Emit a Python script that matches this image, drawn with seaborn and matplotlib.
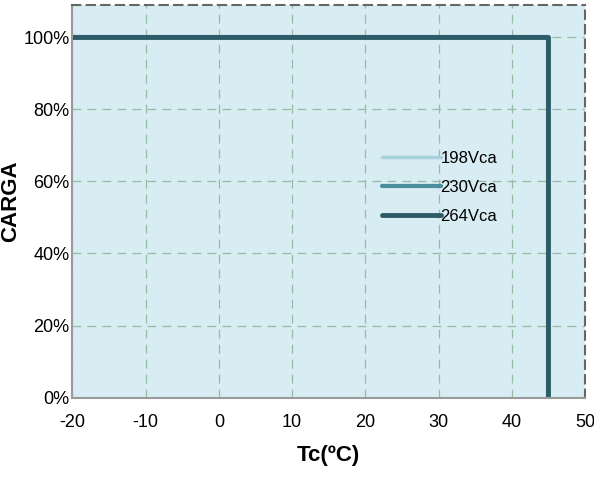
import matplotlib
matplotlib.use("Agg")
import matplotlib.pyplot as plt
import seaborn as sns
import pandas as pd
from matplotlib.ticker import FuncFormatter

# derating curve: full load up to 45 C, then zero
temps = [-20, 45, 45]
load = [1.0, 1.0, 0.0]
series = ["198Vca", "230Vca", "264Vca"]
colors = ["#a9d0dd", "#4b8e9c", "#2d5c68"]
widths = [2.5, 3.0, 3.5]
x_ticks = [-20, -10, 0, 10, 20, 30, 40, 50]
y_ticks = [0, 0.2, 0.4, 0.6, 0.8, 1.0]

rows = []
for s in series:
    for i, (t, l) in enumerate(zip(temps, load)):
        rows.append({"Tc": t, "carga": l, "serie": s, "ord": i})
df = pd.DataFrame(rows)

sns.set_style("white")
plt.rcParams["font.family"] = ["Liberation Sans", "DejaVu Sans"]
plt.rcParams["axes.unicode_minus"] = False
plt.rcParams["text.color"] = "black"
plt.rcParams["axes.labelcolor"] = "black"
plt.rcParams["xtick.color"] = "black"
plt.rcParams["ytick.color"] = "black"

fig, ax = plt.subplots(figsize=(5.94, 4.79), dpi=100)
ax.set_facecolor("#d8ecf3")

for s, c, w in zip(series, colors, widths):
    sub = df[df["serie"] == s]
    sns.lineplot(data=sub, x="Tc", y="carga", sort=False, color=c,
                 linewidth=w, label=s, ax=ax, estimator=None)

ax.set_xlim(-20, 50)
ax.set_ylim(0, 1.09)
ax.set_xticks(x_ticks)
ax.set_yticks(y_ticks)
ax.yaxis.set_major_formatter(FuncFormatter(lambda v, p: f"{v * 100:.0f}%"))
ax.tick_params(labelsize=13, length=0)
ax.tick_params(axis="x", pad=12)
ax.tick_params(axis="y", pad=2)
ax.grid(True, linestyle=(0, (7, 5)), color="#93bca2", linewidth=0.9)

for side in ["left", "bottom"]:
    ax.spines[side].set_color("#9a9a9a")
    ax.spines[side].set_linewidth(1.5)
for side in ["top", "right"]:
    ax.spines[side].set_color("#666666")
    ax.spines[side].set_linestyle((0, (4, 3)))
    ax.spines[side].set_linewidth(1.5)

ax.set_xlabel("Tc(ºC)", fontsize=16, fontweight="bold", labelpad=10)
ax.set_ylabel("CARGA", fontsize=16, fontweight="bold", labelpad=2)

leg = ax.legend(loc="center left", bbox_to_anchor=(0.575, 0.535), frameon=False,
                fontsize=12, handlelength=3.5, handletextpad=0.0,
                labelspacing=0.85)

fig.subplots_adjust(left=0.122, right=0.985, top=0.99, bottom=0.17)
fig.savefig("out.png", dpi=100)
plt.close(fig)
